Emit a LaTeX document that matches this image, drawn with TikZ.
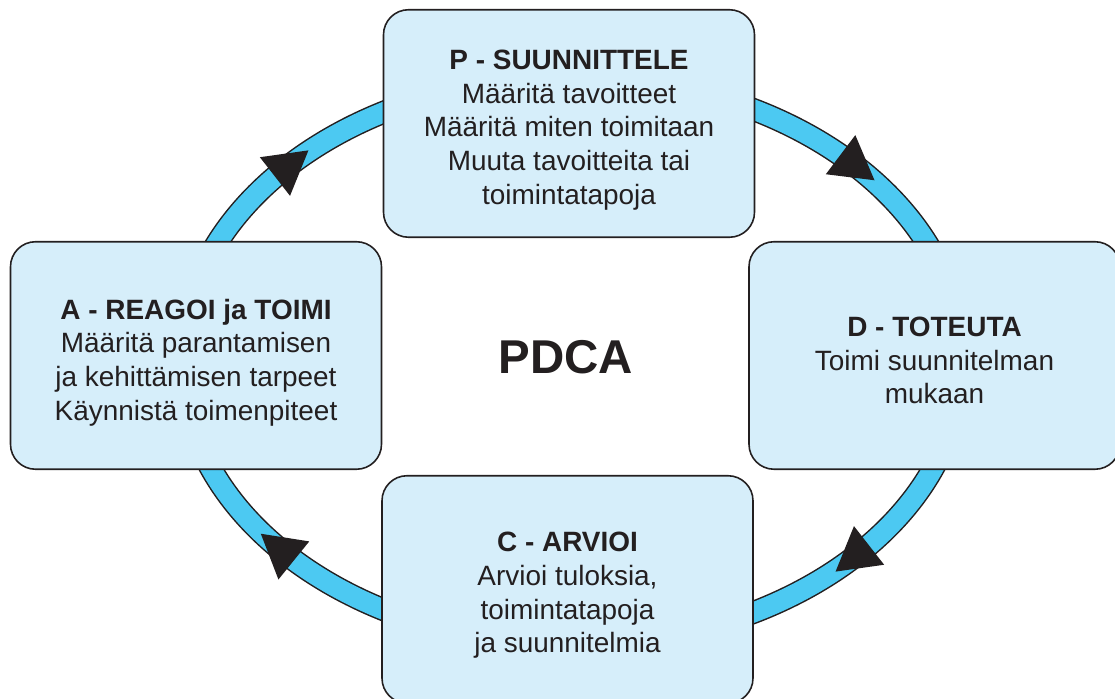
\documentclass[tikz,border=0pt]{standalone}
\usepackage{fontspec}
\setmainfont{Liberation Sans}
\usepackage{tikz}
\definecolor{ringblue}{RGB}{76,201,242}
\definecolor{boxblue}{RGB}{214,238,250}
\definecolor{inkblack}{RGB}{35,31,32}
\tikzset{stage/.style={draw=inkblack,fill=boxblue,line width=0.9pt,rounded corners=0.5cm,minimum width=7.42cm,minimum height=4.55cm,inner sep=0pt}}
\tikzset{stage text/.style={align=center,text=inkblack,inner sep=0pt,font=\fontsize{15.9}{19.2}\selectfont}}
\tikzset{cycle tip/.style={fill=inkblack}}

\begin{document}
\begin{tikzpicture}
                    \useasboundingbox (0,0) rectangle (22.3,13.98);
                    %\draw[help lines] (0, 0) grid (22,14);

                    % ring behind the boxes
                    \coordinate (M) at (11.44, 6.76);
                    \draw[inkblack, line width=0.46cm] (M) ellipse [x radius=7.8, y radius=5.68];
                    \draw[ringblue, line width=0.40cm] (M) ellipse [x radius=7.8, y radius=5.68];
                    \foreach \t in {44,-43,-138,137}
                        \fill[cycle tip, shift={({11.44+7.8*cos(\t)},{6.76+5.68*sin(\t)})}, rotate={atan2(-5.68*cos(\t),7.8*sin(\t))}]
                            (0.55,0) -- (-0.3,0.49) -- (-0.3,-0.49) -- cycle;

                    \node[stage] at (11.38, 11.51) (P){};
                    \node[stage] at (18.69, 6.87) (D){};
                    \node[stage] at (11.35, 2.19) (C){};
                    \node[stage] at (3.92, 6.87) (A){};

                    \node[stage text] at ([yshift=-0.13cm]P) (Ptext){\textbf{P - SUUNNITTELE}\\Määritä tavoitteet\\Määritä miten toimitaan\\Muuta tavoitteita tai\\toimintatapoja};
                    \node[stage text] at ([yshift=-0.10cm]D) (Dtext){\textbf{D - TOTEUTA}\\Toimi suunnitelman\\mukaan};
                    \node[stage text] at ([yshift=-0.12cm]C) (Ctext){\textbf{C - ARVIOI}\\Arvioi tuloksia,\\toimintatapoja\\ja suunnitelmia};
                    \node[stage text] at ([yshift=-0.14cm]A) (Atext){\textbf{A - REAGOI ja TOIMI}\\Määritä parantamisen\\ja kehittämisen tarpeet\\Käynnistä toimenpiteet};

                    \node[text=inkblack, font=\bfseries\fontsize{27}{30}\selectfont] at (11.32, 6.84) (PDCA){PDCA};

\end{tikzpicture}
\end{document}
